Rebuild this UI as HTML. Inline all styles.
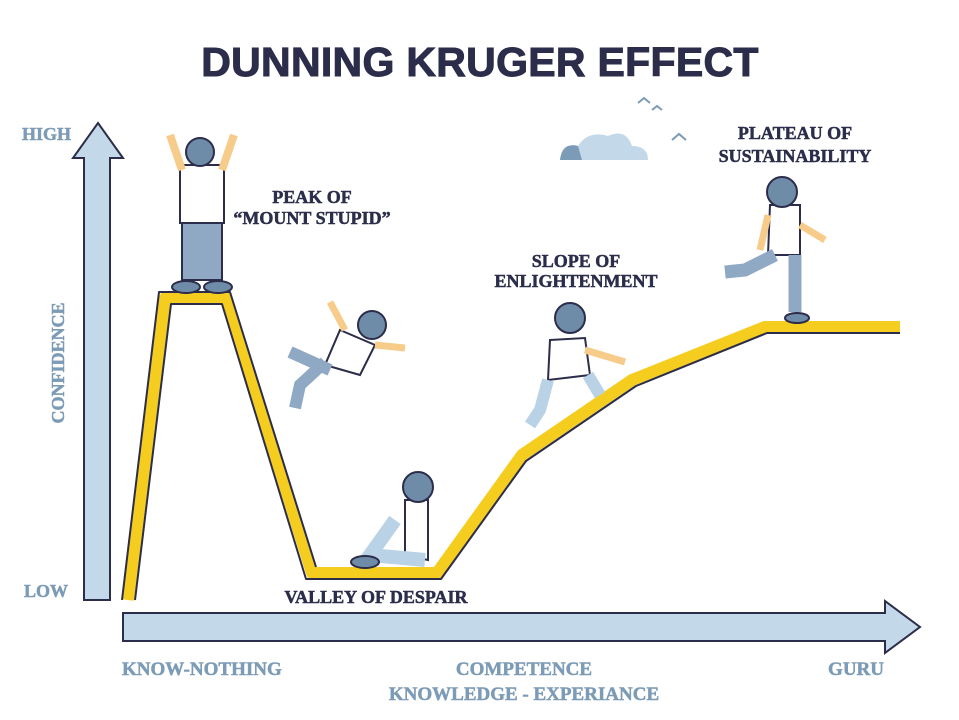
<!DOCTYPE html>
<html><head><meta charset="utf-8"><style>
html,body{margin:0;padding:0;background:#fff;}
svg{display:block}
.t{font-family:"Liberation Serif",serif;font-weight:bold;fill:#2b2d4a;stroke:#2b2d4a;stroke-width:0.5;}
.a{font-family:"Liberation Serif",serif;font-weight:bold;fill:#7c9bb6;stroke:#7c9bb6;stroke-width:0.5;}
</style></head><body>
<svg width="959" height="720" viewBox="0 0 959 720" xmlns="http://www.w3.org/2000/svg">
<text x="480" y="76" text-anchor="middle" font-family="Liberation Sans,sans-serif" font-weight="bold" font-size="41" fill="#2b2d4a" stroke="#2b2d4a" stroke-width="1" letter-spacing="0.3">DUNNING KRUGER EFFECT</text>
<polygon points="84,600 84,158 73,158 98,123 123,158 110,158 110,600" fill="#c3d9e9" stroke="#2b2d4a" stroke-width="2"/>
<polygon points="123,613 885,613 885,601 920,627 885,653 885,641 123,641" fill="#c3d9e9" stroke="#2b2d4a" stroke-width="2"/>
<polyline points="128,600 165,298 226,298 312,573 437,573 522,455 632,380 765,327 900,327" fill="none" stroke="#f4cd1f" stroke-width="12" stroke-linejoin="round"/>
<polyline points="135,600 171,304 222,304 306,579 441,579 526,461 636,386 767,333 900,333" fill="none" stroke="#2b2d4a" stroke-width="2" stroke-linejoin="round"/>
<polyline points="122,600 159,292 230,292 316,567" fill="none" stroke="#2b2d4a" stroke-width="2" stroke-linejoin="round"/>
<path d="M560,160 Q562,142 578,146 Q588,130 608,136 Q626,128 632,146 Q648,146 648,160 Z" fill="#c3d9e9"/>
<path d="M560,160 Q562,142 578,146 L582,160 Z" fill="#7c9bb6"/>
<path d="M638,103 l6,-5 l6,5 M652,110 l5,-4 l5,4 M672,140 l7,-6 l7,6" fill="none" stroke="#7c9bb6" stroke-width="2"/>
<g stroke="#2b2d4a" stroke-width="2">
<rect x="182" y="220" width="40" height="60" fill="#8fa9c5"/>
<rect x="180" y="165" width="44" height="58" fill="#fff"/>
<circle cx="200" cy="152" r="14" fill="#6e8ca8"/>
<path d="M182,170 L170,135 M222,170 L234,135" stroke="#f7cc8a" stroke-width="8"/>
<ellipse cx="186" cy="287" rx="14" ry="6" fill="#6e8ca8"/><ellipse cx="218" cy="287" rx="14" ry="6" fill="#6e8ca8"/>
</g>
<g stroke="#2b2d4a" stroke-width="2">
<path d="M340,330 L375,345 L360,375 L325,365 Z" fill="#fff"/>
<circle cx="372" cy="325" r="14" fill="#6e8ca8"/>
<path d="M325,362 L300,385 L295,408 M330,370 L290,352" stroke="#8fa9c5" stroke-width="12" fill="none"/>
<path d="M375,345 L405,348 M345,330 L330,302" stroke="#f7cc8a" stroke-width="7"/>
</g>
<g stroke="#2b2d4a" stroke-width="2">
<path d="M405,500 L428,500 L428,560 L405,555 Z" fill="#fff"/>
<circle cx="418" cy="487" r="15" fill="#6e8ca8"/>
<path d="M425,560 L370,555 L395,520" stroke="#b9d2e6" stroke-width="14" fill="none"/>
<ellipse cx="365" cy="562" rx="14" ry="6" fill="#6e8ca8"/>
</g>
<g stroke="#2b2d4a" stroke-width="2">
<path d="M550,340 L585,338 L590,375 L548,380 Z" fill="#fff"/>
<circle cx="570" cy="318" r="15" fill="#6e8ca8"/>
<path d="M548,380 L540,410 L530,425 M588,375 L600,395" stroke="#b9d2e6" stroke-width="12" fill="none"/>
<path d="M585,350 L625,362" stroke="#f7cc8a" stroke-width="7"/>
</g>
<g stroke="#2b2d4a" stroke-width="2">
<path d="M770,205 L800,205 L800,255 L768,255 Z" fill="#fff"/>
<circle cx="782" cy="192" r="15" fill="#6e8ca8"/>
<path d="M775,255 L745,270 L725,272 M795,255 L795,312" stroke="#8fa9c5" stroke-width="13" fill="none"/>
<path d="M800,225 L825,240 M768,215 L760,250" stroke="#f7cc8a" stroke-width="7"/>
<ellipse cx="797" cy="318" rx="12" ry="5" fill="#6e8ca8"/>
</g>
<text class="t" x="312" y="203" font-size="18" text-anchor="middle">PEAK OF</text>
<text class="t" x="312" y="224" font-size="18" text-anchor="middle">“MOUNT STUPID”</text>
<text class="t" x="576" y="267" font-size="18" text-anchor="middle">SLOPE OF</text>
<text class="t" x="576" y="287" font-size="18" text-anchor="middle">ENLIGHTENMENT</text>
<text class="t" x="795" y="139" font-size="18" text-anchor="middle">PLATEAU OF</text>
<text class="t" x="795" y="162" font-size="18" text-anchor="middle">SUSTAINABILITY</text>
<text class="t" x="376" y="603" font-size="18" text-anchor="middle">VALLEY OF DESPAIR</text>
<text class="a" x="22" y="140" font-size="18">HIGH</text>
<text class="a" x="24" y="597" font-size="18">LOW</text>
<text class="a" x="0" y="0" font-size="18" text-anchor="middle" transform="translate(64,363) rotate(-90)">CONFIDENCE</text>
<text class="a" x="122" y="675" font-size="19">KNOW-NOTHING</text>
<text class="a" x="524" y="675" font-size="19" text-anchor="middle">COMPETENCE</text>
<text class="a" x="524" y="700" font-size="19" text-anchor="middle">KNOWLEDGE - EXPERIANCE</text>
<text class="a" x="884" y="675" font-size="19" text-anchor="end">GURU</text>
</svg>
</body></html>
